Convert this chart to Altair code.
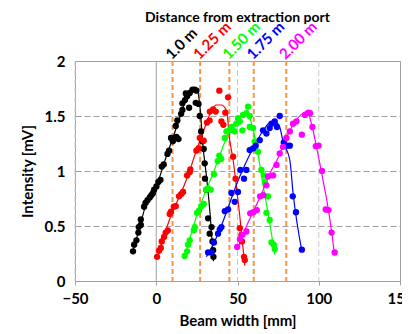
import altair as alt
import pandas as pd

FONT = "Lato"

series = ["1.0 m", "1.25 m", "1.50 m", "1.75 m", "2.00 m"]
colors = ["#000000", "#FF0000", "#00FF00", "#0000FF", "#FF00FF"]
port_x = [10, 27, 45, 60, 80]

x_ticks = [-50, 0, 50, 100, 150]
y_ticks = [0, 0.5, 1, 1.5, 2]
light_vgrid = [-50, 50, 100]
zero_line = [0]

black_x = [-14.3, -13.6, -12.2, -11.0, -10.8, -9.5, -9.5, -7.5, -6.6, -5.4, -4.0, -3.0, -2.0, -1.3, 0.1, 1.3, 2.6, 3.4, 4.6, 6.9, 7.9, 9.1, 10.2, 12.4, 13.7, 12.0, 13.0, 15.3, 16.1, 16.1, 17.7, 19.0, 18.2, 20.6, 22.3, 23.7, 24.7, 20.2, 24.3, 26.0, 26.8, 27.6, 28.4, 29.2, 29.8, 30.0, 30.9, 31.9, 34.0, 32.9, 34.6, 35.0, 35.2]
black_y = [0.27, 0.33, 0.37, 0.44, 0.49, 0.51, 0.56, 0.675, 0.71, 0.735, 0.76, 0.78, 0.80, 0.83, 0.86, 0.90, 0.92, 1.04, 1.06, 1.155, 1.185, 1.30, 1.27, 1.31, 1.29, 1.41, 1.46, 1.52, 1.555, 1.615, 1.645, 1.68, 1.705, 1.71, 1.74, 1.74, 1.73, 1.575, 1.62, 1.61, 1.50, 1.36, 1.27, 1.20, 1.07, 0.93, 0.83, 0.57, 0.49, 0.43, 0.36, 0.28, 0.22]

red_x = [0.5, 1.7, 2.8, 3.4, 4.8, 5.8, 7.1, 8.3, 9.1, 10.8, 12.0, 14.0, 15.3, 16.5, 19.0, 20.6, 21.0, 24.7, 26.0, 26.8, 29.2, 31.2, 32.8, 33.0, 35.0, 36.6, 38.8, 40.1, 41.3, 42.5, 44.2, 47.3, 48.8, 51.4, 52.4, 52.8, 54.0, 54.5]
red_y = [0.22, 0.275, 0.30, 0.36, 0.40, 0.44, 0.46, 0.61, 0.63, 0.675, 0.68, 0.77, 0.79, 0.81, 0.96, 0.99, 1.015, 1.185, 1.205, 1.30, 1.275, 1.44, 1.46, 1.54, 1.56, 1.54, 1.73, 1.45, 1.42, 1.53, 1.67, 1.13, 0.93, 0.48, 0.42, 0.36, 0.22, 0.19]

green_x = [17.5, 19.0, 19.6, 20.6, 23.1, 23.7, 25.1, 26.3, 27.7, 29.2, 30.7, 31.9, 33.5, 35.5, 37.8, 38.8, 40.0, 42.2, 43.2, 45.2, 46.3, 48.3, 49.3, 50.3, 51.4, 53.0, 53.4, 55.5, 56.5, 57.5, 57.5, 59.6, 60.6, 62.6, 64.7, 66.2, 66.8, 68.8, 67.8, 69.8, 70.9, 72.3, 72.9]
green_y = [0.227, 0.27, 0.33, 0.37, 0.46, 0.49, 0.62, 0.64, 0.68, 0.70, 0.83, 0.84, 0.83, 0.97, 1.09, 1.14, 1.11, 1.30, 1.36, 1.37, 1.40, 1.36, 1.43, 1.48, 1.45, 1.37, 1.51, 1.525, 1.585, 1.50, 1.40, 1.39, 1.27, 1.175, 1.01, 0.96, 0.90, 0.77, 0.62, 0.555, 0.35, 0.33, 0.29]

blue_x = [31.9, 34.0, 35.5, 38.0, 39.1, 40.1, 42.2, 44.2, 46.3, 48.3, 50.3, 51.8, 54.0, 55.5, 57.5, 59.6, 61.2, 63.7, 65.7, 67.8, 69.8, 70.9, 72.9, 74.3, 76.0, 78.5, 80.4, 82.2, 84.0, 86.0, 89.6]
blue_y = [0.26, 0.26, 0.35, 0.43, 0.47, 0.49, 0.635, 0.65, 0.80, 0.72, 0.81, 1.01, 0.93, 1.01, 1.19, 1.205, 1.23, 1.28, 1.37, 1.34, 1.39, 1.43, 1.45, 1.40, 1.50, 1.26, 1.23, 1.23, 0.77, 0.625, 0.285]

magenta_x = [49.8, 51.5, 53.0, 55.5, 57.8, 59.8, 61.9, 63.9, 65.9, 67.8, 68.8, 71.9, 74.0, 76.0, 78.0, 80.1, 82.2, 84.2, 86.3, 89.6, 91.6, 93.6, 94.6, 96.1, 98.2, 99.9, 102.0, 104.3, 106.0, 107.9, 109.8]
magenta_y = [0.31, 0.38, 0.42, 0.45, 0.615, 0.625, 0.645, 0.77, 0.78, 0.87, 0.95, 0.96, 1.055, 1.16, 1.22, 1.30, 1.36, 1.43, 1.45, 1.33, 1.51, 1.53, 1.525, 1.40, 1.225, 1.23, 1.00, 0.65, 0.645, 0.44, 0.26]

# fitted curves
black_fit_x = [-14.3, -10, -6, -2, 1, 5, 9, 13, 17, 20, 22.5, 24.7, 26.8, 28.8, 30.9, 32.9, 35.2]
black_fit_y = [0.27, 0.5, 0.71, 0.81, 0.9, 1.08, 1.25, 1.42, 1.6, 1.7, 1.74, 1.75, 1.6, 1.22, 0.95, 0.65, 0.18]
red_fit_x = [0.5, 5, 10, 15, 20, 25, 30, 34, 37, 40, 43.2, 45.2, 47.3, 49.3, 51.4, 54.5]
red_fit_y = [0.2, 0.42, 0.63, 0.79, 0.98, 1.2, 1.4, 1.55, 1.6, 1.6, 1.55, 1.28, 1.10, 0.86, 0.59, 0.14]
green_fit_x = [17.5, 20, 25, 30, 35, 40, 45, 50, 54, 57, 60, 63, 66, 69, 71, 73]
green_fit_y = [0.2, 0.35, 0.6, 0.8, 0.98, 1.18, 1.36, 1.47, 1.52, 1.5, 1.35, 1.12, 0.85, 0.6, 0.42, 0.24]
blue_fit_x = [30.9, 35, 40, 45, 50, 55, 60, 65, 69, 71.5, 74, 76, 78, 82.2, 84.2, 89.5]
blue_fit_y = [0.22, 0.33, 0.5, 0.7, 0.9, 1.07, 1.22, 1.35, 1.43, 1.45, 1.44, 1.40, 1.27, 1.10, 0.80, 0.28]
magenta_fit_x = [49.7, 55, 60, 65, 70, 75, 80, 85, 89, 92.8, 96, 98.6, 102.6, 106.3, 109.8]
magenta_fit_y = [0.28, 0.48, 0.64, 0.8, 0.98, 1.12, 1.3, 1.44, 1.51, 1.54, 1.40, 1.22, 0.92, 0.615, 0.23]

point_sets = [(black_x, black_y), (red_x, red_y), (green_x, green_y), (blue_x, blue_y), (magenta_x, magenta_y)]
fit_sets = [(black_fit_x, black_fit_y), (red_fit_x, red_fit_y), (green_fit_x, green_fit_y),
            (blue_fit_x, blue_fit_y), (magenta_fit_x, magenta_fit_y)]

prow, frow = [], []
for name, (xs_, ys_) in zip(series, point_sets):
    assert len(xs_) == len(ys_)
    for a, b in zip(xs_, ys_):
        prow.append({"series": name, "x": a, "y": b})
for name, (xs_, ys_) in zip(series, fit_sets):
    assert len(xs_) == len(ys_)
    for i, (a, b) in enumerate(zip(xs_, ys_)):
        frow.append({"series": name, "x": a, "y": b, "o": i})
pts = pd.DataFrame(prow)
fits = pd.DataFrame(frow)
labels = pd.DataFrame({"series": series, "x": port_x})

xs = alt.Scale(domain=[-50, 150], nice=False, zero=False)
ys = alt.Scale(domain=[0, 2], nice=False)
cs = alt.Scale(domain=series, range=colors)

xax = alt.Axis(values=x_ticks, grid=False, title="Beam width [mm]", labelFont=FONT, labelFontSize=15,
               labelFontWeight="bold", labelColor="#000", titleFont=FONT, titleFontSize=15,
               titleFontWeight="bold", titleColor="#000", domainColor="#A0A0A0", tickColor="#A0A0A0",
               tickSize=4, labelPadding=6, titlePadding=7, labelFlush=False)
yax = alt.Axis(values=y_ticks, format="~g", grid=True, gridDash=[6, 3], gridColor="#A0A0A0", domain=False,
               ticks=False, tickSize=0, title="Intensity [mV]", labelFont=FONT, labelFontSize=15,
               labelFontWeight="bold", labelColor="#000", titleFont=FONT, titleFontSize=15,
               titleFontWeight="bold", titleColor="#000", labelPadding=10, titlePadding=9)

base_x = alt.X("x:Q", scale=xs, axis=xax)

vgrid = alt.Chart(pd.DataFrame({"x": light_vgrid})).mark_rule(
    color="#C8C8C8", strokeDash=[6, 3], strokeWidth=1).encode(x=base_x)
zline = alt.Chart(pd.DataFrame({"x": zero_line})).mark_rule(
    color="#A0A0A0", strokeWidth=1).encode(x=base_x)
ports = alt.Chart(pd.DataFrame({"x": port_x})).mark_rule(
    color="#F79646", strokeDash=[5, 3], strokeWidth=2).encode(x=base_x)

lines = alt.Chart(fits).mark_line(interpolate="monotone", strokeWidth=1.2).encode(
    x=base_x,
    y=alt.Y("y:Q", scale=ys, axis=yax),
    color=alt.Color("series:N", scale=cs, legend=None),
    detail="series:N",
    order="o:Q",
)
dots = alt.Chart(pts).mark_circle(size=40, opacity=1).encode(
    x=base_x,
    y=alt.Y("y:Q", scale=ys, axis=yax),
    color=alt.Color("series:N", scale=cs, legend=None),
)
texts = alt.Chart(labels).mark_text(
    angle=315, align="left", baseline="alphabetic", font=FONT, fontSize=15, fontWeight="bold",
    dx=0, dy=-1).encode(
    x=base_x,
    y=alt.datum(2, scale=ys),
    text="series:N",
    color=alt.Color("series:N", scale=cs, legend=None),
)

chart = alt.layer(vgrid, zline, ports, lines, dots, texts).properties(
    width=325, height=220,
    title=alt.TitleParams("Distance from extraction port", font=FONT, fontSize=14, fontWeight="bold",
                          color="#000", anchor="middle", offset=-6),
    autosize=alt.AutoSizeParams(type="none"),
    padding={"left": 67, "top": 53, "right": 2, "bottom": 48},
).configure_view(stroke="#A0A0A0", strokeWidth=1)

chart.save("out.html", embed_options={"renderer": "svg", "actions": False})
